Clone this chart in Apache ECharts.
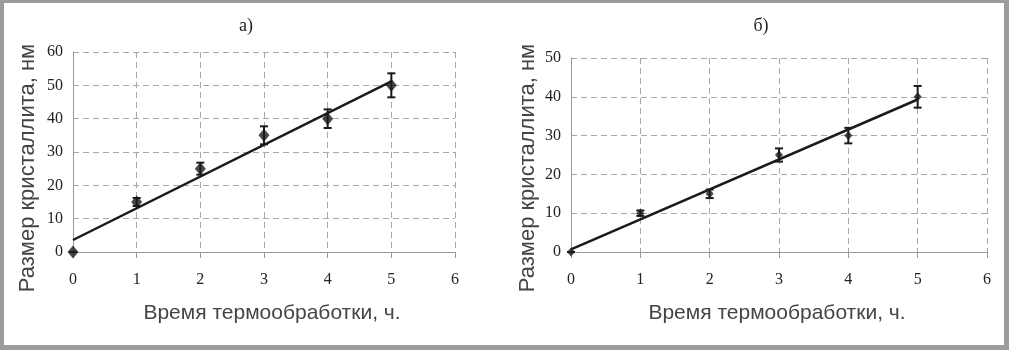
<!DOCTYPE html>
<html>
<head>
<meta charset="utf-8">
<script src="https://cdn.jsdelivr.net/npm/echarts@6/dist/echarts.min.js"></script>
<style>
  html, body { margin: 0; padding: 0; background: #9c9c9c; }
  #chart { position: absolute; left: 4px; top: 3px; width: 1000px; height: 342px; background: #fff; }
</style>
</head>
<body>
<div id="chart"></div>
<script>
// время термообработки, ч
const hours = [0, 1, 2, 3, 4, 5]
// а) размер кристаллита, нм и погрешность
const sizeA = [0, 15, 25, 35, 40, 50]
const errA  = [0, 1.2, 1.8, 2.7, 2.8, 3.6]
// б)
const sizeB = [0, 10, 15, 25, 30, 40]
const errB  = [0, 0.7, 1.1, 1.7, 2.0, 2.8]
// линии тренда (концы)
const trendX = [0, 5]
const trendA = [3.6, 51.2]
const trendB = [0.7, 39.3]

const X_NAME = 'Время термообработки, ч.'
const Y_NAME = 'Размер кристаллита, нм'
const SANS  = '"Liberation Sans", Arial, sans-serif'
const SERIF = '"Liberation Serif", "Times New Roman", serif'

const chart = echarts.init(document.getElementById('chart'), null, { renderer: 'canvas' })

const pairs = (xs, ys) => xs.map((x, i) => [x, ys[i]])
const errData = (ys, es) => hours.map((x, i) => [x, ys[i] - es[i], ys[i] + es[i]])

function errorBar(params, api) {
  const x = api.value(0)
  const lo = api.coord([x, api.value(1)])
  const hi = api.coord([x, api.value(2)])
  const w = 4
  const style = { stroke: '#1a1a1a', lineWidth: 2 }
  return {
    type: 'group',
    children: [
      { type: 'line', shape: { x1: lo[0], y1: lo[1], x2: hi[0], y2: hi[1] }, style },
      { type: 'line', shape: { x1: lo[0] - w, y1: lo[1], x2: lo[0] + w, y2: lo[1] }, style },
      { type: 'line', shape: { x1: hi[0] - w, y1: hi[1], x2: hi[0] + w, y2: hi[1] }, style },
    ],
  }
}

const gridLine = { show: true, lineStyle: { color: '#a8a8a8', type: [6, 4], width: 1 } }

function xAxis(idx) {
  return {
    type: 'value', gridIndex: idx, min: 0, max: 6, interval: 1,
    axisLine: { show: true, onZero: false, lineStyle: { color: '#999', width: 1 } },
    axisTick: { show: true, length: 6, lineStyle: { color: '#999' } },
    axisLabel: { color: '#222', fontSize: 16, fontFamily: SERIF, margin: 20 },
    splitLine: gridLine,
  }
}

function yAxis(idx, max) {
  return {
    type: 'value', gridIndex: idx, min: 0, max: max, interval: 10,
    axisLine: { show: true, lineStyle: { color: '#999', width: 1 } },
    axisTick: { show: false },
    axisLabel: { color: '#222', fontSize: 16, fontFamily: SERIF, margin: 10 },
    splitLine: gridLine,
  }
}

// подписи осей
function axisTitle(text, x, y, rotated) {
  return {
    type: 'text', x, y, rotation: rotated ? Math.PI / 2 : 0, silent: true,
    style: { text, fill: '#444', font: (rotated ? 22 : 21) + 'px ' + SANS, align: 'center', verticalAlign: 'middle' },
  }
}

const option = {
  backgroundColor: '#fff',
  animation: false,
  title: [
    { text: 'а)', left: 237, top: 9, textAlign: 'center',
      textStyle: { color: '#222', fontSize: 18, fontWeight: 'normal', fontFamily: SERIF } },
    { text: 'б)', left: 752, top: 9, textAlign: 'center',
      textStyle: { color: '#222', fontSize: 18, fontWeight: 'normal', fontFamily: SERIF } },
  ],
  graphic: [
    axisTitle(Y_NAME, 24, 165, true),
    axisTitle(X_NAME, 268, 310, false),
    axisTitle(Y_NAME, 524, 165, true),
    axisTitle(X_NAME, 773, 310, false),
  ],
  grid: [
    { left: 69, top: 49, width: 382, height: 200 },
    { left: 567, top: 55, width: 416, height: 194 },
  ],
  xAxis: [xAxis(0), xAxis(1)],
  yAxis: [yAxis(0, 60), yAxis(1, 50)],
  series: [
    { type: 'line', xAxisIndex: 0, yAxisIndex: 0, data: pairs(trendX, trendA), symbol: 'none',
      lineStyle: { color: '#1a1a1a', width: 2.5 }, z: 3 },
    { type: 'custom', xAxisIndex: 0, yAxisIndex: 0, data: errData(sizeA, errA), renderItem: errorBar, z: 4 },
    { type: 'scatter', xAxisIndex: 0, yAxisIndex: 0, data: pairs(hours, sizeA), symbol: 'diamond', symbolSize: [11, 13],
      itemStyle: { color: '#1a1a1a' }, z: 5 },

    { type: 'line', xAxisIndex: 1, yAxisIndex: 1, data: pairs(trendX, trendB), symbol: 'none',
      lineStyle: { color: '#1a1a1a', width: 2.5 }, z: 3 },
    { type: 'custom', xAxisIndex: 1, yAxisIndex: 1, data: errData(sizeB, errB), renderItem: errorBar, z: 4 },
    { type: 'scatter', xAxisIndex: 1, yAxisIndex: 1, data: pairs(hours, sizeB), symbol: 'diamond', symbolSize: [8, 9],
      itemStyle: { color: '#1a1a1a' }, z: 5 },
  ],
}

chart.setOption(option)
</script>
</body>
</html>
